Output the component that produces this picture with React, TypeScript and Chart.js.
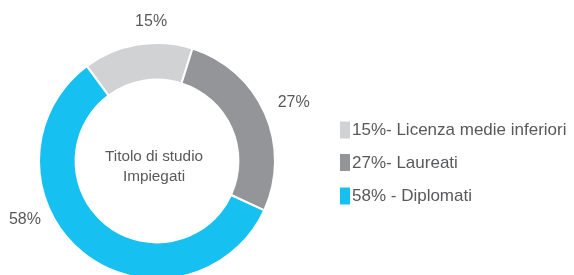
import React, { useEffect, useRef } from "react";
import { Chart, registerables } from "chart.js";

Chart.register(...registerables);

// ---- data ----
const categories = ["Licenza medie inferiori", "Laureati", "Diplomati"];
const values = [15, 27, 58];
const valueLabels = ["15%", "27%", "58%"];
const legendLabels = ["15%- Licenza medie inferiori", "27%- Laureati", "58% - Diplomati"];
const centerLines = ["Titolo di studio", "Impiegati"];

// ---- styles ----
const colors = ["#d1d2d4", "#939598", "#16c1f1"];
const textColor = "#58595b";
const fontFamily = "'Liberation Sans', Arial, sans-serif";
const labelAngleShift = [7.1, 0.4, 27.4]; // degrees
const labelRadius = [141, 149, 144];
const legendRowY = [130, 162.5, 196];

const outerLabelsPlugin = {
  id: "outerLabels",
  afterDatasetsDraw(chart: any) {
    const meta = chart.getDatasetMeta(0);
    const ctx = chart.ctx;
    ctx.save();
    ctx.font = `16px ${fontFamily}`;
    ctx.fillStyle = textColor;
    ctx.textAlign = "center";
    ctx.textBaseline = "middle";
    meta.data.forEach((arc: any, i: number) => {
      const p = arc.getProps(["x", "y", "startAngle", "endAngle"], true);
      const mid = (p.startAngle + p.endAngle) / 2 + (labelAngleShift[i] * Math.PI) / 180;
      const r = labelRadius[i];
      ctx.fillText(valueLabels[i], p.x + Math.cos(mid) * r, p.y + Math.sin(mid) * r + 1);
    });
    ctx.restore();
  },
};

const centerTextPlugin = {
  id: "centerText",
  afterDatasetsDraw(chart: any) {
    const meta = chart.getDatasetMeta(0);
    const arc = meta.data[0];
    if (!arc) return;
    const { x, y } = arc.getProps(["x", "y"], true);
    const ctx = chart.ctx;
    ctx.save();
    ctx.font = `15.3px ${fontFamily}`;
    ctx.fillStyle = textColor;
    ctx.textAlign = "center";
    ctx.textBaseline = "alphabetic";
    ctx.fillText(centerLines[0], x - 3, y - 0.5);
    ctx.fillText(centerLines[1], x - 3, y + 19.5);
    ctx.restore();
  },
};

const sideLegendPlugin = {
  id: "sideLegend",
  afterDraw(chart: any) {
    const ctx = chart.ctx;
    const ds = chart.data.datasets[0];
    ctx.save();
    ctx.font = `17px ${fontFamily}`;
    ctx.textAlign = "left";
    ctx.textBaseline = "middle";
    legendLabels.forEach((t, i) => {
      const cy = legendRowY[i];
      ctx.fillStyle = ds.backgroundColor[i];
      ctx.fillRect(340, cy - 8.5, 10, 17);
      ctx.fillStyle = textColor;
      ctx.fillText(t, 352, cy + 0.5);
    });
    ctx.restore();
  },
};

export default function App() {
  const ref = useRef<HTMLCanvasElement | null>(null);
  useEffect(() => {
    if (!ref.current) return;
    const chart = new Chart(ref.current, {
      type: "doughnut",
      data: {
        labels: categories,
        datasets: [
          {
            data: values,
            backgroundColor: colors,
            borderColor: "#ffffff",
            borderWidth: 2,
            hoverOffset: 0,
          },
        ],
      },
      options: {
        responsive: false,
        animation: false,
        devicePixelRatio: 1,
        rotation: -36.5,
        cutout: "69%",
        layout: { padding: { left: 38, right: 298, top: 42, bottom: 20 } },
        plugins: {
          legend: { display: false },
          tooltip: { enabled: false },
        },
      },
      plugins: [outerLabelsPlugin, centerTextPlugin, sideLegendPlugin],
    });
    return () => chart.destroy();
  }, []);
  return (
    <div
      style={{
        position: "fixed",
        left: 0,
        top: 0,
        width: 574,
        height: 275,
        overflow: "hidden",
        background: "#ffffff",
      }}
    >
      <canvas ref={ref} width={574} height={300} style={{ display: "block" }} />
    </div>
  );
}
